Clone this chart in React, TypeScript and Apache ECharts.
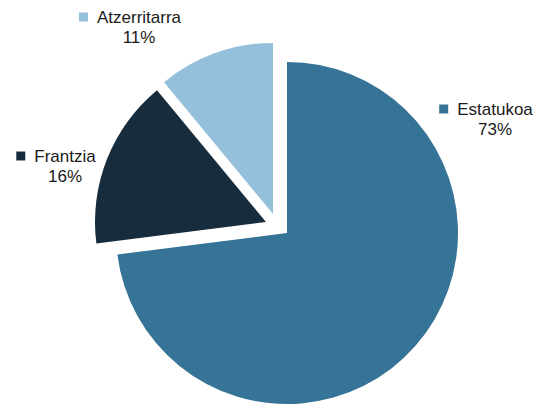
import React, { useEffect, useRef } from "react";
import * as echarts from "echarts";

const categories = ["Estatukoa", "Frantzia", "Atzerritarra"];
const values = [73, 16, 11];
const colors = ["#357397", "#172d3e", "#94c0dc"];

// layout: pie center for each visible slice (exploded ones shifted)
const centers: [number, number][] = [
  [287, 233],
  [266, 222],
  [273, 214],
];
const labelPos: [number, number][] = [
  [486, 119],
  [56, 166],
  [130, 27],
];

export default function App() {
  const ref = useRef<HTMLDivElement>(null);
  useEffect(() => {
    if (!ref.current) return;
    const chart = echarts.init(ref.current, undefined, { renderer: "svg" });
    const series = categories.map((_, si) => ({
      type: "pie",
      center: centers[si],
      radius: [0, 171],
      startAngle: 90,
      clockwise: true,
      silent: true,
      avoidLabelOverlap: false,
      percentPrecision: 0,
      emphasis: { disabled: true },
      labelLine: { show: false },
      data: categories.map((name, i) => ({
        name,
        value: values[i],
        itemStyle: { color: i === si ? colors[i] : "rgba(0,0,0,0)" },
        label: {
          show: i === si,
          position: "outside",
          formatter: "{sq|}{gap|}{name|{b}}\n{pad|}{pct|{d}%}",
          align: "center",
          rich: {
            sq: { width: 9, height: 9, backgroundColor: colors[i] },
            gap: { width: 9 },
            pad: { width: 18 },
            name: { fontSize: 17, color: "#1a1a1a", fontFamily: "Liberation Sans, Arial, sans-serif", lineHeight: 20 },
            pct: { fontSize: 17, color: "#1a1a1a", fontFamily: "Liberation Sans, Arial, sans-serif", lineHeight: 20 },
          },
        },
      })),
      labelLayout: () => ({
        x: labelPos[si][0],
        y: labelPos[si][1],
        align: "center",
        verticalAlign: "middle",
      }),
    }));
    chart.setOption({
      animation: false,
      backgroundColor: "#ffffff",
      series,
    } as any);
    return () => chart.dispose();
  }, []);
  return (
    <div
      ref={ref}
      style={{ position: "fixed", left: 0, top: 0, width: 549, height: 405 }}
    />
  );
}
